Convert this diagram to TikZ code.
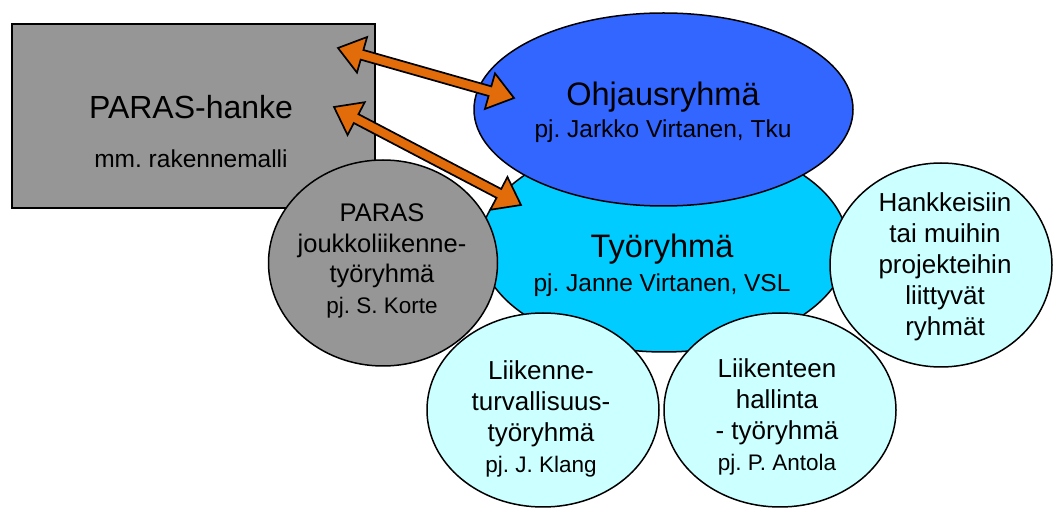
\documentclass[tikz,border=0pt]{standalone}
\usepackage{fontspec}
\setmainfont{Liberation Sans}
\usetikzlibrary{calc,shapes.geometric}
\definecolor{boxgray}{RGB}{150,150,150}
\definecolor{ohjblue}{RGB}{51,102,255}
\definecolor{tyocyan}{RGB}{0,204,255}
\definecolor{palecyan}{RGB}{204,255,255}
\definecolor{arroworange}{RGB}{227,108,10}
\newcommand{\dblarrow}[2]{%
  \draw[blockarrow] (#1)
    -- ($(#1)!25pt!(#2)!18.5pt!90:(#2)$)
    -- ($(#1)!25pt!(#2)!5pt!90:(#2)$)
    -- ($(#2)!25pt!(#1)!5pt!-90:(#1)$)
    -- ($(#2)!25pt!(#1)!18.5pt!-90:(#1)$)
    -- (#2)
    -- ($(#2)!25pt!(#1)!18.5pt!90:(#1)$)
    -- ($(#2)!25pt!(#1)!5pt!90:(#1)$)
    -- ($(#1)!25pt!(#2)!5pt!-90:(#2)$)
    -- ($(#1)!25pt!(#2)!18.5pt!-90:(#2)$)
    -- cycle;}
\frenchspacing
\begin{document}
\begin{tikzpicture}[x=1pt,y=-1pt,
  outl/.style={draw=black, line width=1.5pt},
  oval/.style={outl, ellipse, inner sep=0pt},
  lbl/.style={anchor=base, inner sep=0pt, text=black},
  blockarrow/.style={draw=black, line width=1.7pt, fill=arroworange, line join=miter}]
\useasboundingbox (0,0) rectangle (1053,510);
% shapes
\node[outl, fill=boxgray, rectangle, inner sep=0pt, minimum width=363pt, minimum height=184pt] (paras) at (193.5,116) {};
\node[oval, fill=tyocyan, minimum width=368pt, minimum height=214pt] (tyo) at (664,245) {};
\node[oval, fill=ohjblue, minimum width=379pt, minimum height=193pt] (ohj) at (663.5,109.5) {};
\node[oval, fill=boxgray, minimum width=229pt, minimum height=206pt] (jl) at (383,263) {};
\node[oval, fill=palecyan, minimum width=222pt, minimum height=204pt] (hank) at (941,265) {};
\node[oval, fill=palecyan, minimum width=232pt, minimum height=194pt] (lt) at (543,410) {};
\node[oval, fill=palecyan, minimum width=232pt, minimum height=194pt] (lh) at (780,410) {};
% texts
\node[lbl] (parasT) at (191,119) {\fontsize{32}{49}\selectfont\begin{tabular}[t]{@{}c@{}}PARAS-hanke\\{\fontsize{24.5}{29}\selectfont mm. rakennemalli}\end{tabular}};
\node[lbl] (ohjT) at (663,106) {\fontsize{32.5}{32}\selectfont\begin{tabular}[t]{@{}c@{}}Ohjausryhmä\\{\fontsize{24.5}{29}\selectfont pj. Jarkko Virtanen, Tku}\end{tabular}};
\node[lbl] (tyoT) at (662,258) {\fontsize{32.5}{34}\selectfont\begin{tabular}[t]{@{}c@{}}Työryhmä\\{\fontsize{24.5}{29}\selectfont pj. Janne Virtanen, VSL}\end{tabular}};
\node[lbl] (jlT) at (382,222) {\fontsize{25.5}{30.4}\selectfont\begin{tabular}[t]{@{}c@{}}PARAS\\joukkoliikenne-\\työryhmä\\{\fontsize{22.5}{27}\selectfont pj. S. Korte}\end{tabular}};
\node[lbl] (hankT) at (945,212) {\fontsize{26}{30.8}\selectfont\begin{tabular}[t]{@{}c@{}}Hankkeisiin\\tai muihin\\projekteihin\\liittyvät\\ryhmät\end{tabular}};
\node[lbl] (ltT) at (541,380) {\fontsize{26}{30.7}\selectfont\begin{tabular}[t]{@{}c@{}}Liikenne-\\turvallisuus-\\työryhmä\\{\fontsize{22.5}{27}\selectfont pj. J. Klang}\end{tabular}};
\node[lbl] (lhT) at (777,378) {\fontsize{26}{30.7}\selectfont\begin{tabular}[t]{@{}c@{}}Liikenteen\\hallinta\\- työryhmä\\{\fontsize{22.5}{27}\selectfont pj. P. Antola}\end{tabular}};
% arrows
\coordinate (a1) at (338,48);
\coordinate (b1) at (514,98);
\coordinate (a2) at (334,107);
\coordinate (b2) at (521,205);
\dblarrow{a1}{b1}
\dblarrow{a2}{b2}
\end{tikzpicture}
\end{document}
